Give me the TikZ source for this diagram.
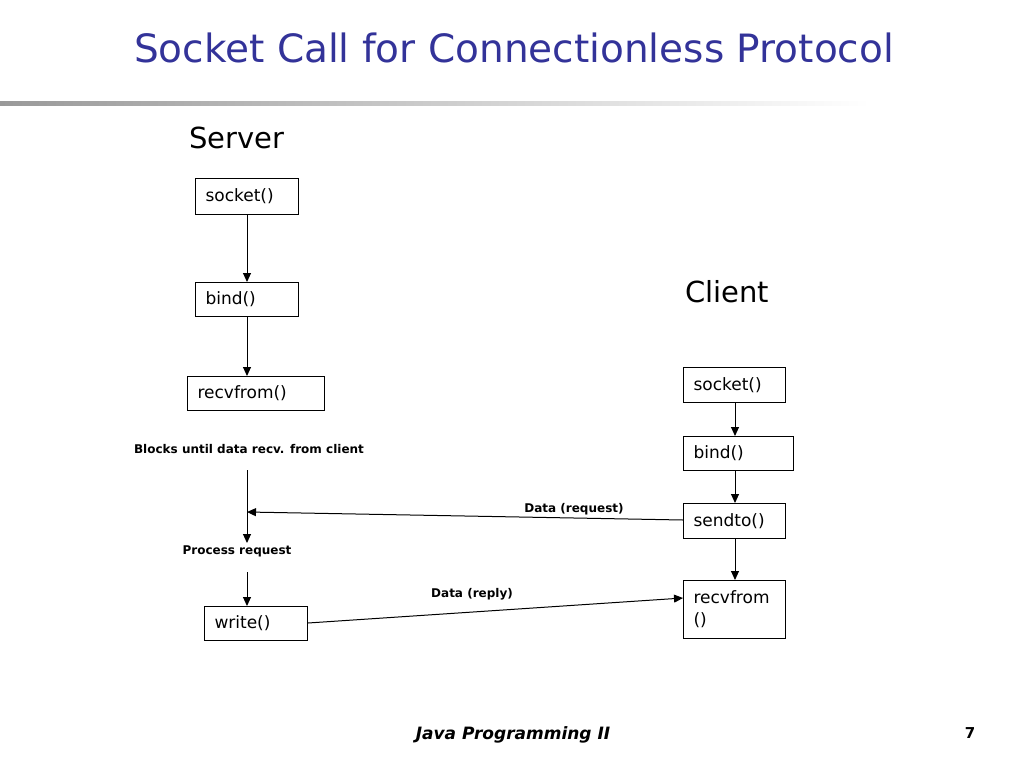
\documentclass[tikz,border=0pt]{standalone}
\usepackage{fontspec}
\setmainfont{DejaVu Sans}
\usetikzlibrary{arrows.meta}
\definecolor{titleblue}{HTML}{333399}
\begin{document}
\begin{tikzpicture}[x=1pt,y=-1pt,
  box/.style={draw,line width=1pt,anchor=north west,inner xsep=10pt,inner ysep=0pt,align=left,font=\fontsize{17}{22}\selectfont},
  lbl/.style={font=\bfseries\fontsize{12}{14}\selectfont,inner sep=1pt},
  arr/.style={-{Triangle[length=9pt,width=8pt]},line width=1pt}]
\useasboundingbox (0,0) rectangle (1024,768);
\node[text=titleblue,font=\fontsize{39}{44}\selectfont,inner sep=0pt] (title) at (514,48) {Socket Call for Connectionless Protocol};
\shade[left color=gray!80,right color=white] (0,101) rectangle (870,105);
\node[font=\fontsize{29}{34}\selectfont] (server) at (237,138) {Server};
\node[font=\fontsize{29}{34}\selectfont] (client) at (727,292) {Client};
% server boxes
\node[box,minimum height=36pt,text width=83pt] (s1) at (195,178) {socket()};
\node[box,minimum height=34pt,text width=83pt] (s2) at (195,282) {bind()};
\node[box,minimum height=34pt,text width=117pt] (s3) at (187,376) {recvfrom()};
\node[box,minimum height=34pt,text width=83pt] (s4) at (204,606) {write()};
% client boxes
\node[box,minimum height=35pt,text width=82pt] (c1) at (683,367) {socket()};
\node[box,minimum height=34pt,text width=90pt] (c2) at (683,436) {bind()};
\node[box,minimum height=35pt,text width=82pt] (c3) at (683,503) {sendto()};
\node[box,minimum height=58pt,text width=82pt,inner ysep=6pt,anchor=north west] (c4) at (683,580) {recvfrom\\()};
% labels
\node[lbl] (blk) at (249,449) {Blocks until data recv. from client};
\node[lbl] (proc) at (237,551) {Process request};
\node[lbl] (dreq) at (574,509) {Data (request)};
\node[lbl] (drep) at (472,594) {Data (reply)};
\coordinate (b1) at (247,470);
\coordinate (b2) at (247,543);
\coordinate (j) at (247,512);
\coordinate (p1) at (247,572);
% arrows
\draw[arr] (s1.south -| j) -- (s2.north -| j);
\draw[arr] (s2.south -| j) -- (s3.north -| j);
\draw[arr] (b1) -- (b2);
\draw[arr] (p1) -- (s4.north -| j);
\draw[arr] (c1.south -| 735,0) -- (c2.north -| 735,0);
\draw[arr] (c2.south -| 735,0) -- (c3.north -| 735,0);
\draw[arr] (c3.south -| 735,0) -- (c4.north -| 735,0);
\draw[arr] (c3.west |- 0,520) -- (j);
\draw[arr] (s4.east |- 0,623) -- (c4.west |- 0,598);
% footer
\node[font=\bfseries\itshape\fontsize{17}{20}\selectfont] (foot) at (513,735) {Java Programming II};
\node[font=\bfseries\fontsize{15}{18}\selectfont] (pg) at (970,733) {7};
\end{tikzpicture}
\end{document}
